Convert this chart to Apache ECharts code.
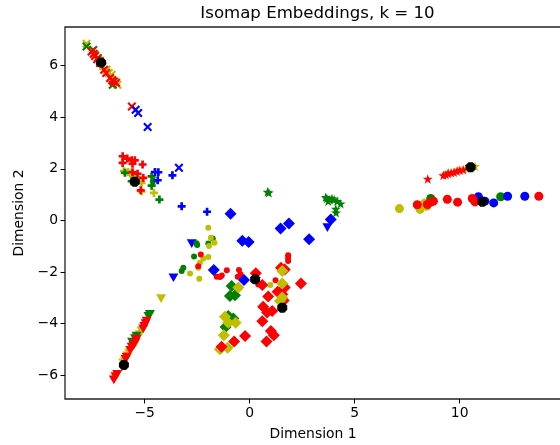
<!DOCTYPE html>
<html><head><meta charset="utf-8">
<style>html,body{margin:0;padding:0;background:#fff}#c{width:560px;height:445px}</style>
<script src="https://cdn.jsdelivr.net/npm/echarts@6/dist/echarts.min.js"></script>
</head><body><div id="c"></div>
<script>
const xTicks = [-5, 0, 5, 10];
const yTicks = [-6, -4, -2, 0, 2, 4, 6];

const crossYellow = [[-7.77,6.85],[-7.36,6.42],[-7.13,6.2],[-6.98,5.98],[-6.81,5.84],[-6.71,5.72],[-6.57,5.65],[-6.43,5.4],[-6.3,5.26]];
const crossGreen = [[-7.77,6.74],[-7.45,6.61],[-7.23,6.3],[-6.52,5.26]];
const crossRed = [[-7.53,6.55],[-7.43,6.46],[-7.36,6.38],[-7.26,6.25],[-7.13,6.1],[-6.93,5.84],[-6.83,5.72],[-6.65,5.52],[-6.55,5.44],[-6.49,5.39],[-6.36,5.34],[-5.61,4.42]];
const crossBlue = [[-5.43,4.29],[-5.31,4.17],[-4.86,3.62],[-3.37,2.04]];

const plusYellow = [[-5.99,1.91],[-5.79,1.88],[-5.69,1.82],[-5.62,1.78],[-5.49,1.72],[-5.39,1.65],[-5.27,1.55],[-5.15,1.46],[-5.15,1.13],[-4.56,1.07]];
const plusGreen = [[-5.94,1.85],[-5.62,1.52],[-4.67,1.71],[-4.56,1.52],[-4.67,1.35],[-4.3,0.81]];
const plusRed = [[-6.05,2.49],[-6.05,2.23],[-5.83,2.40],[-5.62,2.33],[-5.47,2.33],[-5.58,2.2],[-5.1,2.17],[-5.58,1.87],[-5.34,1.81],[-5.07,1.65],[-5.19,1.17]];
const plusBlue = [[-4.51,1.88],[-4.35,1.87],[-4.38,1.56],[-3.68,1.75],[-3.24,0.55],[-2.03,0.34]];

const triYellow = [[-4.22,-3.03],[-5.15,-4.28],[-5.24,-4.42],[-5.49,-4.82],[-5.74,-5.14],[-5.81,-5.25],[-5.94,-5.44],[-6.02,-5.52]];
const triGreen = [[-4.75,-3.64],[-4.82,-3.72],[-5.39,-4.48],[-5.46,-4.58],[-5.6,-4.71]];
const triRed = [[-4.91,-3.9],[-4.96,-4.0],[-5.02,-4.1],[-5.07,-4.2],[-5.39,-4.6],[-5.44,-4.72],[-5.54,-4.85],[-5.62,-4.91],[-5.69,-5.03],[-5.86,-5.3],[-5.91,-5.38],[-6.31,-5.96],[-6.39,-6.05],[-6.47,-6.18]];
const triBlue = [[-2.76,-0.9],[-3.63,-2.22],[3.7,-0.28]];

const dotYellow = [[-1.97,-0.28],[-1.85,-0.67],[-1.68,-0.86],[-1.94,-0.99],[-2.21,-1.47],[-1.97,-1.42],[-2.37,-1.64],[-2.45,-1.83],[-2.84,-2.06],[-2.4,-2.26],[0.98,-2.5]];
const dotGreen = [[-1.76,-0.70],[-1.97,-0.89],[-2.5,-0.95],[-2.53,-0.88],[-2.65,-1.4],[-3.16,-1.83],[-3.24,-1.96]];
const dotRed = [[-2.33,-1.32],[-2.45,-1.77],[-1.57,-2.18],[-1.41,-2.19],[-1.33,-2.13],[-1.09,-1.93],[-0.51,-1.92],[-0.43,-2.09],[-0.57,-2.18],[0.41,-2.48],[1.83,-1.35],[1.83,-1.45],[1.83,-1.57],[1.23,-2.32]];

const diaGreen = [[-0.86,-2.54],[-0.7,-2.9],[-0.94,-2.93],[-1.02,-3.7],[-0.78,-3.8],[-1.15,-4.13]];
const diaRed = [[0.29,-2.05],[0.6,-2.5],[0.88,-2.95],[0.64,-3.34],[0.83,-3.57],[1.07,-3.51],[0.6,-3.91],[1.01,-4.28],[1.15,-4.45],[0.8,-4.69],[-0.22,-4.48],[-0.74,-4.69],[1.49,-1.83],[1.67,-1.9],[1.33,-2.76],[1.67,-2.6],[2.44,-2.44],[1.55,-2.86],[1.62,-3.1]];
const diaYellow = [[-0.54,-2.6],[-1.18,-3.73],[-1.02,-3.96],[-0.67,-3.96],[-1.23,-4.45],[-1.05,-4.93],[-1.42,-4.99],[1.55,-1.96],[1.55,-2.44],[1.55,-2.99],[1.44,-3.12]];
const diaRedTop = [[-1.34,-4.89]];
const diaBlue = [[-0.91,0.26],[-0.35,-0.79],[-0.05,-0.83],[-1.71,-1.92],[-0.27,-2.31],[1.47,-0.31],[1.87,-0.12],[2.83,-0.73],[3.86,0.04]];

const starGreen = [[0.85,1.11],[0.91,1.08],[3.62,0.9],[3.68,0.85],[3.74,0.75],[3.82,0.81],[3.92,0.85],[4.02,0.81],[4.17,0.75],[4.33,0.65],[4.1,0.45],[4.11,0.3]];
const starYellow = [[10.73,2.1],[9.92,1.97],[9.45,1.86],[10.29,2.02]];
const starRed = [[8.48,1.61],[9.22,1.75],[9.34,1.78],[9.45,1.82],[9.59,1.85],[9.73,1.87],[9.87,1.91],[10.01,1.95],[10.17,1.97]];

const ballYellow = [[7.13,0.46],[8.11,0.43],[8.43,0.55],[8.35,0.68]];
const ballGreen = [[8.62,0.85],[11.95,0.92]];
const ballBlue = [[10.89,0.92],[11.2,0.75],[11.62,0.68],[12.28,0.94],[13.1,0.94]];
const ballRed = [[7.98,0.61],[8.46,0.62],[8.62,0.71],[8.75,0.75],[9.41,0.82],[9.9,0.71],[10.6,0.85],[10.73,0.72],[13.77,0.94]];

const centres = [[-7.08,6.12],[-5.47,1.50],[-5.99,-5.6],[0.26,-2.28],[1.55,-3.38],[10.52,2.06],[11.08,0.73]];

const RED='#ff0000', GREEN='#008000', BLUE='#0000ff', YELLOW='#bfbf00', BLACK='#000000';
const CROSS='path://M2 0L6 4L10 0L12 2L8 6L12 10L10 12L6 8L2 12L0 10L4 6L0 2Z';
const PLUS='path://M4 0H8V4H12V8H8V12H4V8H0V4H4Z';
const STAR='path://M6 0L7.4 4.1L11.7 4.1L8.2 6.7L9.5 10.9L6 8.4L2.5 10.9L3.8 6.7L.3 4.1L4.6 4.1Z';
const TRI='path://M0 0H12L6 10.4Z';
const OCT='path://M3.5 0H8.5L12 3.5V8.5L8.5 12H3.5L0 8.5V3.5Z';

const s=(data,color,symbol,size)=>({type:'scatter',data,symbol,symbolSize:size,symbolKeepAspect:true,
  itemStyle:{color,opacity:1},silent:true,animation:false});

const series=[
 s(crossYellow,YELLOW,CROSS,9), s(crossGreen,GREEN,CROSS,9), s(crossRed,RED,CROSS,9), s(crossBlue,BLUE,CROSS,9),
 s(plusYellow,YELLOW,PLUS,8), s(plusGreen,GREEN,PLUS,8), s(plusRed,RED,PLUS,8), s(plusBlue,BLUE,PLUS,8),
 s(triYellow,YELLOW,TRI,10), s(triGreen,GREEN,TRI,10), s(triRed,RED,TRI,10), s(triBlue,BLUE,TRI,10),
 s(dotGreen,GREEN,'circle',6), s(dotYellow,YELLOW,'circle',6), s(dotRed,RED,'circle',6),
 s(diaGreen,GREEN,'diamond',12), s(diaRed,RED,'diamond',12), s(diaYellow,YELLOW,'diamond',12), s(diaRedTop,RED,'diamond',12), s(diaBlue,BLUE,'diamond',12),
 s(starGreen,GREEN,STAR,10), s(starYellow,YELLOW,STAR,10), s(starRed,RED,STAR,10),
 s(ballYellow,YELLOW,'circle',9), s(ballGreen,GREEN,'circle',9), s(ballBlue,BLUE,'circle',9), s(ballRed,RED,'circle',9),
 s(centres,BLACK,OCT,10)
];

const fmt=v=>String(v).replace('-','\u2212');
const FONT='"DejaVu Sans"';
const axis=(name,min,max,ticks,gap)=>({type:'value',min,max,name,nameLocation:'middle',nameGap:gap,
  nameTextStyle:{fontFamily:FONT,fontSize:13.9,color:'#000'},
  axisLine:{show:false,onZero:false},splitLine:{show:false},
  axisTick:{show:true,length:4.5,inside:false,customValues:ticks,lineStyle:{color:'#000',width:1}},
  axisLabel:{show:true,customValues:ticks,formatter:fmt,fontFamily:FONT,fontSize:13.9,color:'#000',margin:7,hideOverlap:false,showMinLabel:true,showMaxLabel:true}});

const chart=echarts.init(document.getElementById('c'),null,{renderer:'canvas'});
chart.setOption({
  animation:false,backgroundColor:'#fff',
  title:{text:'Isomap Embeddings, k = 10',left:312.5,top:0,textAlign:'center',
    textStyle:{fontFamily:FONT,fontSize:16.6,fontWeight:'normal',color:'#000'}},
  grid:{left:65,right:-1,top:27,bottom:46,show:true,borderColor:'#222',borderWidth:1.3,backgroundColor:'transparent',outerBoundsMode:'none'},
  xAxis:axis('Dimension 1',-8.795,14.824,xTicks,28),
  yAxis:axis('Dimension 2',-6.92,7.5,yTicks,37),
  series
});
</script></body></html>
